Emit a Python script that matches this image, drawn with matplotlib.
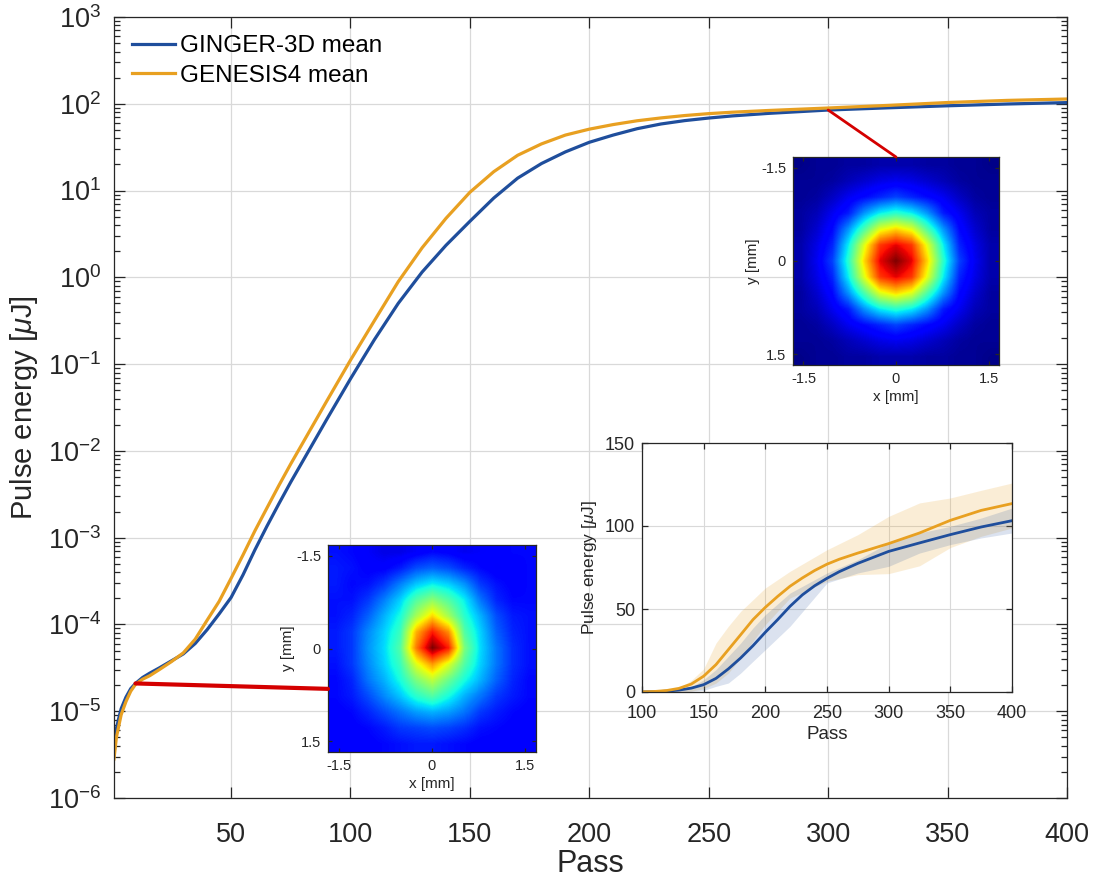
import numpy as np
import matplotlib
matplotlib.use('Agg')
import matplotlib.pyplot as plt
from matplotlib.patches import ConnectionPatch
from matplotlib.ticker import LogLocator, NullFormatter, FixedLocator

plt.rcParams['font.family'] = ['Liberation Sans', 'DejaVu Sans']
plt.rcParams['mathtext.fontset'] = 'custom'
plt.rcParams['mathtext.rm'] = 'Liberation Sans'
plt.rcParams['mathtext.it'] = 'Liberation Sans:italic'
plt.rcParams['mathtext.default'] = 'regular'

# 平均パルスエネルギー (uJ)
pass_main = [1, 2, 3, 4, 6, 8, 10, 13, 16, 20, 25, 30, 35, 40, 45, 50, 55, 60, 65, 70,
             75, 80, 90, 100, 110, 120, 130, 140, 150, 160, 170, 180, 190, 200, 210, 220,
             230, 240, 250, 260, 275, 300, 325, 350, 375, 400]
ginger_mean = [3.16e-6, 6.31e-6, 8.32e-6, 1.07e-5, 1.45e-5, 1.82e-5, 2.09e-5, 2.45e-5,
               2.75e-5, 3.16e-5, 3.80e-5, 4.57e-5, 6.03e-5, 8.71e-5, 1.32e-4, 2.04e-4,
               3.72e-4, 7.24e-4, 1.35e-3, 2.45e-3, 4.37e-3, 7.59e-3, 2.29e-2, 6.76e-2,
               0.191, 0.501, 1.15, 2.34, 4.42, 8.2, 13.9, 20.5, 27.9, 36.0, 43.6, 51.6,
               58.5, 64.0, 68.5, 72.5, 77.5, 84.7, 89.8, 94.8, 99.4, 103.2]
genesis_mean = [2.82e-6, 5.01e-6, 6.76e-6, 9.12e-6, 1.29e-5, 1.70e-5, 2.04e-5, 2.34e-5,
                2.57e-5, 3.02e-5, 3.72e-5, 4.70e-5, 6.76e-5, 1.12e-4, 1.84e-4, 3.39e-4,
                6.31e-4, 1.20e-3, 2.19e-3, 3.98e-3, 7.08e-3, 1.23e-2, 3.72e-2, 0.111,
                0.316, 0.891, 2.19, 4.79, 9.55, 16.5, 25.5, 34.5, 43.6, 51.0, 57.6, 63.7,
                68.7, 73.2, 77.0, 80.0, 83.7, 89.4, 95.8, 103.4, 109.4, 113.5]

# ばらつき範囲 (inset, linear)
band_pass = [100, 130, 140, 150, 160, 170, 180, 190, 200, 220, 250, 275, 300, 325, 350, 375, 400]
ginger_lo = [0, 0, 0.5, 1.0, 3.4, 5.4, 11.4, 18.5, 25.5, 39.6, 65.7, 71.7, 75.7, 83.7, 88.8, 92.8, 95.8]
ginger_hi = [0.2, 0.8, 3.0, 7.4, 13.5, 21.5, 29.5, 38.6, 46.6, 59.6, 71.7, 79.7, 89.8, 95.8, 99.8, 104.8, 110.8]
genesis_lo = [0, 0, 0.5, 2.0, 5.4, 11.4, 20.5, 30.5, 40.6, 56.6, 66.7, 70.7, 71.3, 76.0, 87.0, 93.8, 98.8]
genesis_hi = [0.5, 2.5, 7.0, 14.0, 29.5, 39.6, 48.6, 55.6, 62.7, 72.7, 85.7, 94.8, 105.8, 113.9, 116.9, 121.5, 125.9]

# 横断面プロファイル (normalised)
profile_early = [
    [0.14, 0.13, 0.11, 0.09, 0.09, 0.11, 0.13, 0.12, 0.10, 0.11, 0.12, 0.13, 0.13],
    [0.15, 0.14, 0.12, 0.12, 0.15, 0.20, 0.22, 0.20, 0.16, 0.13, 0.11, 0.12, 0.13],
    [0.15, 0.13, 0.14, 0.18, 0.25, 0.32, 0.36, 0.33, 0.27, 0.18, 0.14, 0.12, 0.13],
    [0.14, 0.14, 0.18, 0.25, 0.33, 0.45, 0.52, 0.45, 0.36, 0.24, 0.16, 0.13, 0.13],
    [0.14, 0.16, 0.22, 0.30, 0.38, 0.55, 0.68, 0.55, 0.40, 0.30, 0.20, 0.15, 0.14],
    [0.15, 0.18, 0.26, 0.33, 0.42, 0.72, 0.88, 0.76, 0.45, 0.33, 0.22, 0.16, 0.14],
    [0.15, 0.18, 0.27, 0.34, 0.45, 0.78, 1.00, 0.88, 0.50, 0.34, 0.24, 0.17, 0.14],
    [0.14, 0.18, 0.26, 0.33, 0.42, 0.62, 0.75, 0.62, 0.45, 0.33, 0.24, 0.17, 0.14],
    [0.13, 0.16, 0.24, 0.30, 0.38, 0.50, 0.58, 0.48, 0.38, 0.30, 0.22, 0.16, 0.13],
    [0.13, 0.15, 0.20, 0.26, 0.32, 0.40, 0.45, 0.38, 0.30, 0.24, 0.18, 0.15, 0.13],
    [0.12, 0.13, 0.16, 0.20, 0.24, 0.28, 0.30, 0.28, 0.24, 0.18, 0.15, 0.13, 0.12],
    [0.12, 0.12, 0.13, 0.15, 0.18, 0.19, 0.20, 0.19, 0.17, 0.14, 0.13, 0.12, 0.12],
    [0.12, 0.12, 0.12, 0.13, 0.14, 0.15, 0.15, 0.14, 0.13, 0.12, 0.12, 0.12, 0.12],
]
profile_sat = [
    [0.01, 0.02, 0.02, 0.03, 0.03, 0.04, 0.04, 0.04, 0.03, 0.03, 0.02, 0.02, 0.01],
    [0.02, 0.02, 0.03, 0.05, 0.07, 0.09, 0.10, 0.09, 0.07, 0.05, 0.03, 0.02, 0.02],
    [0.02, 0.03, 0.06, 0.10, 0.13, 0.16, 0.19, 0.16, 0.13, 0.10, 0.06, 0.03, 0.02],
    [0.03, 0.05, 0.10, 0.15, 0.27, 0.36, 0.40, 0.36, 0.27, 0.15, 0.10, 0.05, 0.03],
    [0.03, 0.07, 0.13, 0.27, 0.44, 0.62, 0.68, 0.62, 0.44, 0.27, 0.13, 0.07, 0.03],
    [0.04, 0.09, 0.16, 0.36, 0.62, 0.85, 0.91, 0.85, 0.62, 0.36, 0.16, 0.09, 0.04],
    [0.04, 0.10, 0.19, 0.40, 0.68, 0.91, 1.00, 0.91, 0.68, 0.40, 0.19, 0.10, 0.04],
    [0.04, 0.09, 0.16, 0.36, 0.62, 0.85, 0.91, 0.85, 0.62, 0.36, 0.16, 0.09, 0.04],
    [0.03, 0.07, 0.13, 0.27, 0.44, 0.62, 0.68, 0.62, 0.44, 0.27, 0.13, 0.07, 0.03],
    [0.03, 0.05, 0.10, 0.15, 0.27, 0.36, 0.40, 0.36, 0.27, 0.15, 0.10, 0.05, 0.03],
    [0.02, 0.03, 0.06, 0.10, 0.13, 0.16, 0.19, 0.16, 0.13, 0.10, 0.06, 0.03, 0.02],
    [0.02, 0.02, 0.03, 0.05, 0.07, 0.09, 0.10, 0.09, 0.07, 0.05, 0.03, 0.02, 0.02],
    [0.01, 0.02, 0.02, 0.03, 0.03, 0.04, 0.04, 0.04, 0.03, 0.03, 0.02, 0.02, 0.01],
]
mm_ticks = [-1.5, 0, 1.5]
mm_labels = ['-1.5', '0', '1.5']
half_w = 1.67

c_blue = '#1f4e9c'
c_orange = '#e8a021'
c_red = '#d40000'
c_axis = '#262626'
energy_label = r'Pulse energy [$\mathit{\mu}$J]'

W, H = 1095, 882
fig = plt.figure(figsize=(W / 100, H / 100), dpi=100)


def px_axes(l, t, r, b):
    return fig.add_axes([l / W, 1 - b / H, (r - l) / W, (b - t) / H])


def style(ax, size, major=6, minor=3, xpad=4, ypad=4):
    ax.tick_params(which='both', direction='in', top=True, right=True,
                   colors=c_axis, labelsize=size, width=0.9)
    ax.tick_params(axis='x', pad=xpad)
    ax.tick_params(axis='y', pad=ypad)
    ax.tick_params(which='major', length=major)
    ax.tick_params(which='minor', length=minor)
    for s in ax.spines.values():
        s.set_color(c_axis)
        s.set_linewidth(0.9)


# メインのグラフ
ax = px_axes(114, 17, 1067, 798)
ax.plot(pass_main, ginger_mean, color=c_blue, lw=2.3, label='GINGER-3D mean')
ax.plot(pass_main, genesis_mean, color=c_orange, lw=2.3, label='GENESIS4 mean')
ax.set_yscale('log')
ax.set_xlim(1, 400)
ax.set_ylim(1e-6, 1e3)
ax.xaxis.set_major_locator(FixedLocator([50, 100, 150, 200, 250, 300, 350, 400]))
ax.yaxis.set_major_locator(LogLocator(base=10, numticks=20))
ax.yaxis.set_minor_locator(LogLocator(base=10, subs=np.arange(2, 10), numticks=20))
ax.yaxis.set_minor_formatter(NullFormatter())
style(ax, 19.5, major=8, minor=4, xpad=17, ypad=9)
ax.grid(True, which='major', color='#d9d9d9', lw=0.9)
ax.set_axisbelow(True)
ax.set_xlabel('Pass', fontsize=22, color=c_axis, labelpad=1)
ax.set_ylabel(energy_label, fontsize=21, color=c_axis, labelpad=6)
ax.legend(loc='upper left', frameon=False, fontsize=17.5, handlelength=1.75,
          handletextpad=0.2, labelspacing=0.3, borderaxespad=0.35)

# 線形スケールの拡大図
axl = px_axes(642, 443, 1012, 692)
axl.fill_between(band_pass, genesis_lo, genesis_hi, color=c_orange, alpha=0.18, lw=0)
axl.fill_between(band_pass, ginger_lo, ginger_hi, color=c_blue, alpha=0.16, lw=0)
axl.plot(pass_main, ginger_mean, color=c_blue, lw=2.0)
axl.plot(pass_main, genesis_mean, color=c_orange, lw=2.0)
axl.set_xlim(100, 400)
axl.set_ylim(0, 150)
axl.set_xticks([100, 150, 200, 250, 300, 350, 400])
axl.set_yticks([0, 50, 100, 150])
style(axl, 13, major=4, xpad=9, ypad=5)
axl.grid(True, color='#d9d9d9', lw=0.8)
axl.set_axisbelow(True)
axl.set_xlabel('Pass', fontsize=13.5, color=c_axis, labelpad=3)
axl.set_ylabel(energy_label, fontsize=12.5, color=c_axis, labelpad=4)


def beam_inset(box, data):
    a = px_axes(*box)
    a.imshow(np.array(data), cmap='jet', vmin=0, vmax=1, interpolation='bilinear',
             extent=[-half_w, half_w, half_w, -half_w], aspect='auto')
    a.set_xticks(mm_ticks)
    a.set_xticklabels(mm_labels)
    a.set_yticks(mm_ticks)
    a.set_yticklabels(mm_labels)
    style(a, 10.5, major=3, xpad=5, ypad=5)
    a.set_xlabel('x [mm]', fontsize=11, color=c_axis, labelpad=3)
    a.set_ylabel('y [mm]', fontsize=11, color=c_axis, labelpad=1)
    return a


ax_sat = beam_inset((793, 157, 999, 365), profile_sat)
ax_early = beam_inset((328, 545, 536, 752), profile_early)

# 対応する点と拡大図をつなぐ線
i_sat = pass_main.index(300)
con = ConnectionPatch(xyA=(pass_main[i_sat], ginger_mean[i_sat]), coordsA=ax.transData,
                      xyB=(0.5, 1.0), coordsB=ax_sat.transAxes, color=c_red, lw=2.0)
fig.add_artist(con)
i_early = pass_main.index(10)
con = ConnectionPatch(xyA=(pass_main[i_early], ginger_mean[i_early]), coordsA=ax.transData,
                      xyB=(0.0, 0.305), coordsB=ax_early.transAxes, color=c_red, lw=3.0)
fig.add_artist(con)

fig.savefig('out.png', dpi=100)
